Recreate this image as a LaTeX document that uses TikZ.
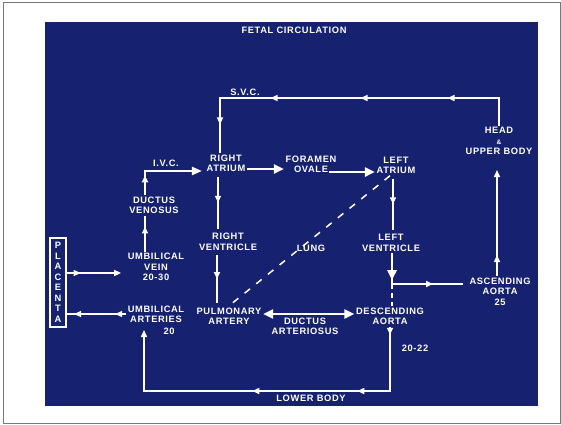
\documentclass[tikz,border=0pt]{standalone}
\usepackage{fontspec}
\usetikzlibrary{arrows.meta,decorations.markings}
\newfontfamily\slidefont[LetterSpace=7]{Liberation Sans}
\newcommand\slidetext{\slidefont\bfseries\fontsize{9.3pt}{10.5pt}\selectfont}
\definecolor{slideBlue}{RGB}{22,34,112}
\definecolor{frameGray}{RGB}{120,120,120}

\tikzset{
  lbl/.style={text=white, font=\slidetext, align=center, inner sep=1.5pt},
  vessel/.style={white, line width=1.5pt},
  shunt/.style={white, line width=2.8pt, >={Triangle[length=10pt,width=9pt]}},
  tip at/.style={postaction={decorate, decoration={markings,
      mark=at position #1 with {\arrow{Triangle[length=7pt,width=6pt]}}}}},
  bigtip at/.style={postaction={decorate, decoration={markings,
      mark=at position #1 with {\arrow{Triangle[length=10pt,width=9pt]}}}}},
}

\begin{document}
\begin{tikzpicture}[x=1pt, y=-1pt, >={Triangle[length=7pt,width=6pt]}]
  \useasboundingbox (0,0) rectangle (561,424);
  \draw[frameGray, line width=0.8pt] (3,2) rectangle (560,423);
  \fill[slideBlue] (45,22) rectangle (538,406);

  % labels
  \node[lbl] (title) at (294,30) {FETAL CIRCULATION};
  \node[lbl] (svc) at (245,92) {S.V.C.};
  \node[lbl] (head) at (499,141) {HEAD\\{\fontsize{6.5pt}{10.5pt}\selectfont\&}\\UPPER BODY};
  \node[lbl] (ivc) at (166,163) {I.V.C.};
  \node[lbl] (ra) at (226,163.5) {RIGHT\\ATRIUM};
  \node[lbl] (fo) at (311,164.5) {FORAMEN\\OVALE};
  \node[lbl] (la) at (396,165.5) {LEFT\\ATRIUM};
  \node[lbl] (dv) at (154,205.5) {DUCTUS\\VENOSUS};
  \node[lbl] (rv) at (228,242) {RIGHT\\VENTRICLE};
  \node[lbl] (lung) at (311,248) {LUNG};
  \node[lbl] (lv) at (391,243) {LEFT\\VENTRICLE};
  \node[lbl] (uv) at (156,267) {UMBILICAL\\VEIN\\20-30};
  \node[lbl] (asc) at (500,291.5) {ASCENDING\\AORTA\\25};
  \node[lbl] (ua) at (156,314.5) {UMBILICAL\\ARTERIES};
  \node[lbl] (ua20) at (169,331) {20};
  \node[lbl] (pa) at (229,316) {PULMONARY\\ARTERY};
  \node[lbl] (desc) at (390,316.5) {DESCENDING\\AORTA};
  \node[lbl] (ductus) at (305,326.5) {DUCTUS\\ARTERIOSUS};
  \node[lbl] (n2022) at (415,348) {20-22};
  \node[lbl] (lower) at (311,398) {LOWER BODY};
  \node[lbl, draw=white, line width=1.2pt, minimum width=16pt, minimum height=89pt,
        inner sep=0pt] (placenta) at (58,282.5) {P\\L\\A\\C\\E\\N\\T\\A};

  % superior vena cava
  \coordinate (svcR) at (499,98);
  \coordinate (svcL) at (220,98);
  \draw[vessel, tip at=79pt, tip at=166pt, tip at=256pt, tip at=333pt]
    (head.north) -- (svcR) -- (svcL) -- (ra.north -| svcL);
  \coordinate (headIn) at (497,170);
  \draw[vessel, tip at=21pt, ->] (asc.north -| headIn) -- (headIn);

  % left ventricle out
  \coordinate (jct) at (392,284);
  \draw[shunt, bigtip at=27pt] (lv.south -| jct) -- (jct);
  \draw[vessel, tip at=41pt, shorten >=5pt] (jct) -- (jct -| asc.west);
  \draw[vessel, dash pattern=on 5pt off 4pt] (jct) -- (desc.north -| jct);

  % lower body
  \coordinate (lbR) at (390,391);
  \coordinate (lbL) at (144,391);
  \coordinate (uaIn) at (144,330);
  \draw[vessel, tip at=8pt, tip at=97pt, tip at=202pt, ->]
    (desc.south -| lbR) -- (lbR) -- (lbL) -- (uaIn);

  % right and left heart
  \draw[vessel, tip at=0.5, shorten <=3pt, shorten >=3pt] (ra.south -| 218,0) -- (rv.north -| 218,0);
  \draw[vessel, tip at=0.5, shorten <=3pt, shorten >=3pt] (rv.south -| 217,0) -- (pa.north -| 217,0);
  \draw[vessel, tip at=0.5, shorten <=3pt, shorten >=3pt] (la.south -| 393,0) -- (lv.north -| 393,0);
  \draw[vessel, dash pattern=on 7pt off 8pt] ([xshift=-6pt]la.south) -- (pa.north);

  % inferior vena cava
  \coordinate (ivcC) at (145,171);
  \draw[vessel, line width=2.2pt, tip at=0.7] (uv.north -| ivcC) -- (dv.south -| ivcC);
  \draw[vessel, line width=2.2pt, tip at=20pt, -{Triangle[length=10pt,width=8pt]}, shorten >=3pt]
    (dv.north -| ivcC) -- (ivcC) -- (ivcC -| ra.west);

  % shunts
  \draw[shunt, ->] ([yshift=-5.5pt]ra.east) -- ([yshift=-5.5pt]ra.east -| fo.west);
  \draw[shunt, ->] ([xshift=-9pt, yshift=-7.5pt]fo.east) -- ([yshift=-7.5pt]fo.east -| la.west);
  \draw[shunt, <->] ([yshift=2pt]pa.east) -- ([yshift=2pt]pa.east -| desc.west);

  % placenta
  \draw[vessel, tip at=14pt, ->, shorten >=5pt] (placenta.east |- 0,273) -- (uv.west |- 0,273);
  \draw[vessel, tip at=11pt, tip at=52pt] (ua.west |- 0,314) -- (placenta.east |- 0,314);
\end{tikzpicture}
\end{document}
